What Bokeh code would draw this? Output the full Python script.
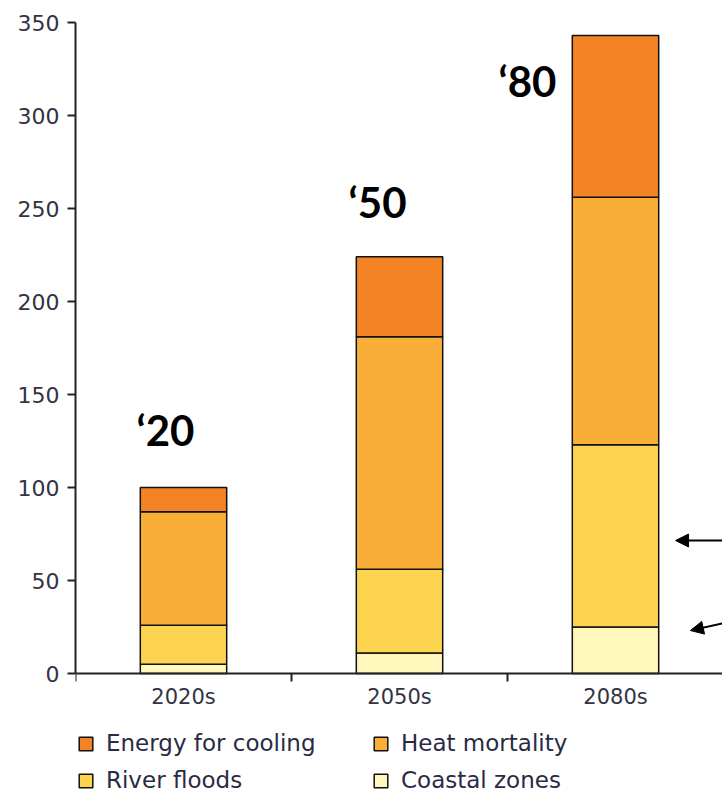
from bokeh.plotting import figure
from bokeh.models import (ColumnDataSource, Range1d, FixedTicker, Legend, LegendItem,
                          Label, Arrow, NormalHead)
from bokeh.embed import file_html
from bokeh.resources import INLINE

# ---- data ----
periods = ["2020s", "2050s", "2080s"]
coastal = [5, 11, 25]
river = [21, 45, 98]
heat = [61, 125, 133]
energy = [13, 43, 87]
series_names = ["Coastal zones", "River floods", "Heat mortality", "Energy for cooling"]
colors = ["#FFF7BB", "#FDD450", "#F9AE38", "#F38324"]
y_ticks = [0, 50, 100, 150, 200, 250, 300, 350]
decade_marks = ["\u201820", "\u201850", "\u201880"]
stack_keys = ["coastal", "river", "heat", "energy"]

xs = [i + 0.5 for i in range(len(periods))]
src = ColumnDataSource(dict(x=xs, coastal=coastal, river=river, heat=heat, energy=energy))

W, H = 722, 794
left, top = 75, 22
y_max = 350
px_per_unit = (673 - top) / y_max          # zero line at 673 px
y_min = y_max - (H - top) / px_per_unit    # frame extends to bottom of page (legend area)
frame_w = W - left
cat_px = 216
x_max = frame_w / cat_px

p = figure(width=W, height=H, output_backend="svg", toolbar_location=None,
           x_range=Range1d(0, x_max), y_range=Range1d(y_min, y_max),
           min_border_left=left, min_border_right=0, min_border_top=top,
           min_border_bottom=0)
p.outline_line_color = None
p.xgrid.visible = False
p.ygrid.visible = False
p.background_fill_color = "white"
p.border_fill_color = "white"

rs = p.vbar_stack(stack_keys, x="x", width=0.4, source=src,
                  fill_color=colors, line_color="#111111", line_width=1.5)

# y axis
ax = p.yaxis[0]
ax.ticker = FixedTicker(ticks=y_ticks)
ax.bounds = (0, y_max)
ax.axis_line_color = "#222222"
ax.axis_line_width = 2
ax.major_tick_line_color = "#222222"
ax.major_tick_line_width = 2
ax.major_tick_in = 0
ax.major_tick_out = 8
ax.minor_tick_line_color = None
ax.major_label_standoff = 8
ax.major_label_text_font = "DejaVu Sans"
ax.major_label_text_font_size = "22px"
ax.major_label_text_color = "#333344"

# x axis fixed at y = 0
bx = p.xaxis[0]
bx.fixed_location = 0
bx.bounds = (0, x_max)
bx.ticker = FixedTicker(ticks=xs, minor_ticks=[float(i) for i in range(len(periods) + 1)])
bx.major_label_overrides = {x: lab for x, lab in zip(xs, periods)}
bx.axis_line_color = "#222222"
bx.axis_line_width = 2
bx.major_tick_line_color = None
bx.major_tick_in = 0
bx.major_tick_out = 0
bx.minor_tick_line_color = "#222222"
bx.minor_tick_line_width = 2
bx.minor_tick_in = 0
bx.minor_tick_out = 8
bx.major_label_standoff = 3
bx.major_label_text_font = "DejaVu Sans"
bx.major_label_text_font_size = "21px"
bx.major_label_text_color = "#333344"

# decade annotations
mark_pos = [(0.282, 131.0), (1.264, 253.5), (1.958, 318.5)]
for txt, (mx, my) in zip(decade_marks, mark_pos):
    p.add_layout(Label(x=mx, y=my, text=txt, text_font="Lato", text_font_style="bold",
                       text_font_size="42px", text_color="black",
                       text_baseline="alphabetic", text_align="left"))

# arrows at right edge
p.add_layout(Arrow(x_start=2.995, y_start=71.5, x_end=2.778, y_end=71.5,
                   line_color="black", line_width=2,
                   end=NormalHead(size=13, fill_color="black", line_color="black")))
p.add_layout(Arrow(x_start=2.995, y_start=26.9, x_end=2.847, y_end=23.1,
                   line_color="black", line_width=2,
                   end=NormalHead(size=13, fill_color="black", line_color="black")))

# legend (two columns, below the axis)
order = [3, 2, 1, 0]
items = [LegendItem(label=series_names[i], renderers=[rs[i]]) for i in order]
leg = Legend(items=items, orientation="horizontal", ncols=2, location=(2, 1),
             label_text_font="DejaVu Sans", label_text_font_size="23px",
             label_text_color="#2a2a44", glyph_width=17, glyph_height=17,
             label_standoff=12, label_width=255, label_height=23, spacing=11,
             padding=0, margin=0, border_line_alpha=0, background_fill_alpha=0)
p.add_layout(leg, "center")

open("out.html", "w").write(file_html(p, INLINE))
